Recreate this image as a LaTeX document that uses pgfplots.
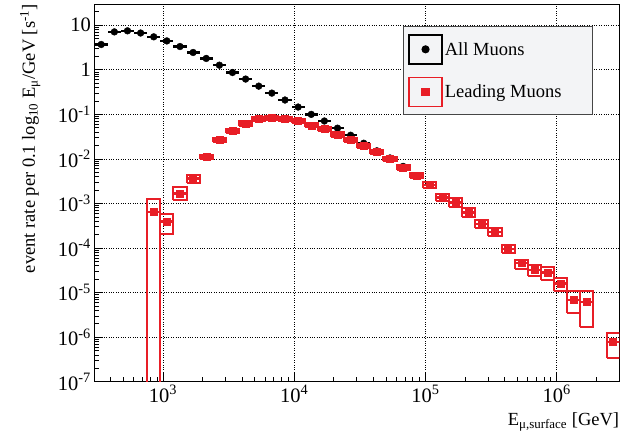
\documentclass[border=0pt]{standalone}
\usepackage{pgfplots}
\usepackage{pgfplotstable}
\pgfplotsset{compat=1.18}
\usepackage{fontspec}
\setmainfont{Liberation Serif}
\definecolor{rred}{RGB}{232,30,38}
\definecolor{lgbg}{RGB}{243,244,246}
\newcommand{\bigfont}{\fontsize{18.5bp}{22bp}\selectfont}
\newcommand{\tickfont}{\fontsize{20.5bp}{24bp}\selectfont}

\pgfplotstableread{
E y
338.8 3.7
426.6 7.1
537.0 7.5
676.1 6.7
851.1 5.5
1071.5 4.45
1349 3.33
1698 2.45
2138 1.8
2692 1.27
3388 0.87
4266 0.62
5370 0.43
6761 0.30
8511 0.21
10715 0.146
13490 0.100
16980 0.071
21380 0.049
26920 0.034
33880 0.0225
42660 0.0152
53700 0.0105
67610 0.0068
}\allmu

\pgfplotstableread{
E y
851.1 6.5e-4
1071.5 3.9e-4
1349 1.68e-3
1698 3.65e-3
2138 0.011
2692 0.0264
3388 0.042
4266 0.0625
5370 0.078
6761 0.0836
8511 0.0795
10715 0.072
13490 0.057
16980 0.047
21380 0.0355
26920 0.0265
33880 0.0198
42660 0.0145
53700 0.0099
67610 0.0064
85110 0.0042
107150 0.0026
134900 0.00138
169800 0.00106
213800 6.2e-4
269200 3.45e-4
338800 2.3e-4
426600 9.5e-5
537000 4.6e-5
676100 3.2e-5
851100 2.8e-5
1071500 1.6e-5
1349000 6.9e-6
1698000 6.1e-6
2692000 7.8e-7
}\leadmu

\pgfplotstableread{
x y
758.6 5e-8
955.0 5e-8
955.0 1.24e-3
758.6 1.24e-3
758.6 5e-8
758.6 nan
955.0 2.1e-4
1202.3 2.1e-4
1202.3 5.85e-4
955.0 5.85e-4
955.0 2.1e-4
955.0 nan
1202.3 1.21e-3
1513.6 1.21e-3
1513.6 2.3e-3
1202.3 2.3e-3
1202.3 1.21e-3
1202.3 nan
1513.6 2.9e-3
1905.5 2.9e-3
1905.5 4.4e-3
1513.6 4.4e-3
1513.6 2.9e-3
1513.6 nan
1905.5 0.00985
2398.8 0.00985
2398.8 0.01229
1905.5 0.01229
1905.5 0.00985
1905.5 nan
2398.8 0.02364
3020.0 0.02364
3020.0 0.02949
2398.8 0.02949
2398.8 0.02364
2398.8 nan
3020.0 0.03760
3801.9 0.03760
3801.9 0.04691
3020.0 0.04691
3020.0 0.03760
3020.0 nan
3801.9 0.05595
4786.3 0.05595
4786.3 0.06981
3801.9 0.06981
3801.9 0.05595
3801.9 nan
4786.3 0.06983
6025.6 0.06983
6025.6 0.08713
4786.3 0.08713
4786.3 0.06983
4786.3 nan
6025.6 0.07484
7585.8 0.07484
7585.8 0.09338
6025.6 0.09338
6025.6 0.07484
6025.6 nan
7585.8 0.07117
9549.9 0.07117
9549.9 0.08880
7585.8 0.08880
7585.8 0.07117
7585.8 nan
9549.9 0.06446
12023 0.06446
12023 0.08042
9549.9 0.08042
9549.9 0.06446
9549.9 nan
12023 0.05103
15136 0.05103
15136 0.06367
12023 0.06367
12023 0.05103
12023 nan
15136 0.04208
19055 0.04208
19055 0.05250
15136 0.05250
15136 0.04208
15136 nan
19055 0.03178
23988 0.03178
23988 0.03965
19055 0.03965
19055 0.03178
19055 nan
23988 0.02372
30200 0.02372
30200 0.02960
23988 0.02960
23988 0.02372
23988 nan
30200 0.01773
38019 0.01773
38019 0.02212
30200 0.02212
30200 0.01773
30200 nan
38019 0.01298
47863 0.01298
47863 0.01620
38019 0.01620
38019 0.01298
38019 nan
47863 0.00886
60256 0.00886
60256 0.01106
47863 0.01106
47863 0.00886
47863 nan
60256 0.00573
75858 0.00573
75858 0.00715
60256 0.00715
60256 0.00573
60256 nan
75858 0.00365
95499 0.00365
95499 0.00483
75858 0.00483
75858 0.00365
75858 nan
95499 0.00226
120226 0.00226
120226 0.00299
95499 0.00299
95499 0.00226
95499 nan
120226 0.00115
151356 0.00115
151356 0.00166
120226 0.00166
120226 0.00115
120226 nan
151356 0.000848
190546 0.000848
190546 0.001325
151356 0.001325
151356 0.000848
151356 nan
190546 4.96e-4
239883 4.96e-4
239883 7.75e-4
190546 7.75e-4
190546 4.96e-4
190546 nan
239883 2.76e-4
301995 2.76e-4
301995 4.31e-4
239883 4.31e-4
239883 2.76e-4
239883 nan
301995 1.84e-4
380189 1.84e-4
380189 2.88e-4
301995 2.88e-4
301995 1.84e-4
301995 nan
380189 7.6e-5
478630 7.6e-5
478630 1.19e-4
380189 1.19e-4
380189 7.6e-5
380189 nan
478630 3.35e-5
602560 3.35e-5
602560 5.4e-5
478630 5.4e-5
478630 3.35e-5
478630 nan
602560 2.37e-5
758578 2.37e-5
758578 4.2e-5
602560 4.2e-5
602560 2.37e-5
602560 nan
758578 1.88e-5
954993 1.88e-5
954993 3.73e-5
758578 3.73e-5
758578 1.88e-5
758578 nan
954993 1.08e-5
1202264 1.08e-5
1202264 2.1e-5
954993 2.1e-5
954993 1.08e-5
954993 nan
1202264 3.5e-6
1513561 3.5e-6
1513561 1.09e-5
1202264 1.09e-5
1202264 3.5e-6
1202264 nan
1513561 1.71e-6
1905461 1.71e-6
1905461 1.09e-5
1513561 1.09e-5
1513561 1.71e-6
1513561 nan
2398833 3.35e-7
3019952 3.35e-7
3019952 1.24e-6
2398833 1.24e-6
2398833 3.35e-7
}\boxes

\begin{document}
\begin{tikzpicture}
\begin{axis}[
  scale only axis, width=525bp, height=377.7bp,
  xmode=log, ymode=log,
  xmin=300, xmax=3e6, ymin=1e-7, ymax=30,
  axis line style={line width=0.9bp},
  tick align=inside, xtick pos=bottom, ytick pos=left,
  major tick length=9bp, minor tick length=4.5bp,
  every tick/.style={black, line width=0.7bp},
  xtick={1e3,1e4,1e5,1e6},
  minor xtick={400,500,600,700,800,900,2000,3000,4000,5000,6000,7000,8000,9000,
    2e4,3e4,4e4,5e4,6e4,7e4,8e4,9e4,2e5,3e5,4e5,5e5,6e5,7e5,8e5,9e5,2e6},
  xticklabels={10\textsuperscript{3},10\textsuperscript{4},10\textsuperscript{5},10\textsuperscript{6}},
  ytick={1e-7,1e-6,1e-5,1e-4,1e-3,1e-2,1e-1,1,10},
  minor ytick={2e-7,3e-7,4e-7,5e-7,6e-7,7e-7,8e-7,9e-7,
    2e-6,3e-6,4e-6,5e-6,6e-6,7e-6,8e-6,9e-6,
    2e-5,3e-5,4e-5,5e-5,6e-5,7e-5,8e-5,9e-5,
    2e-4,3e-4,4e-4,5e-4,6e-4,7e-4,8e-4,9e-4,
    2e-3,3e-3,4e-3,5e-3,6e-3,7e-3,8e-3,9e-3,
    0.02,0.03,0.04,0.05,0.06,0.07,0.08,0.09,
    0.2,0.3,0.4,0.5,0.6,0.7,0.8,0.9,
    2,3,4,5,6,7,8,9,20},
  yticklabels={10\textsuperscript{-7},10\textsuperscript{-6},10\textsuperscript{-5},10\textsuperscript{-4},10\textsuperscript{-3},10\textsuperscript{-2},10\textsuperscript{-1},1,10},
  grid=major, major grid style={dotted, black, line width=0.8bp},
  tick label style={font=\tickfont},
  xlabel={E\textsubscript{μ,surface} [GeV]},
  ylabel={event rate per 0.1 log\textsubscript{10} E\textsubscript{μ}/GeV [s\textsuperscript{-1}]},
  label style={font=\bigfont},
  xlabel style={at={(axis description cs:1,-0.082)}, anchor=north east, inner sep=0pt},
  ylabel style={at={(axis description cs:-0.122,1)}, anchor=east, inner sep=0pt},
  legend style={at={(axis description cs:0.5874,0.9418)}, anchor=north west,
    draw=gray!55!black, fill=lgbg, line width=1.1bp, font=\bigfont,
    inner xsep=5bp, inner ysep=7.5bp, row sep=12bp,
    /tikz/every even column/.append style={column sep=6bp}},
  legend cell align=left,
]
\addlegendimage{legend image code/.code={
  \draw[black, line width=1.6bp] (0bp,-14.5bp) rectangle (33bp,14.5bp);
  \fill[black] (16.5bp,0bp) circle (3.5bp);}}
\addlegendentry{\makebox[141bp][l]{All Muons}}
\addlegendimage{legend image code/.code={
  \draw[rred, line width=1.6bp] (0bp,-14.5bp) rectangle (33bp,14.5bp);
  \fill[rred] (13bp,-3.5bp) rectangle (20bp,3.5bp);}}
\addlegendentry{\makebox[141bp][l]{Leading Muons}}

\addplot[black, only marks, mark=*, mark size=3.4bp, forget plot,
  error bars/.cd, x dir=both, x explicit relative, error mark=none,
  error bar style={black, line width=2.5bp}]
  table[x=E, y=y, x error plus expr=0.122, x error minus expr=0.109] {\allmu};

\addplot[rred, line width=1.9bp, mark=none, unbounded coords=jump, line join=miter, forget plot]
  table[x=x, y=y] {\boxes};

\addplot[rred, only marks, mark=square*, mark size=3.5bp, forget plot,
  error bars/.cd, x dir=both, x explicit relative, error mark=none,
  error bar style={rred, line width=2.5bp}]
  table[x=E, y=y, x error plus expr=0.122, x error minus expr=0.109] {\leadmu};
\end{axis}
\path ([shift={(-94.3bp,-55.3bp)}]current axis.south west) rectangle ([shift={(12.7bp,4bp)}]current axis.north east);
\end{tikzpicture}
\end{document}
